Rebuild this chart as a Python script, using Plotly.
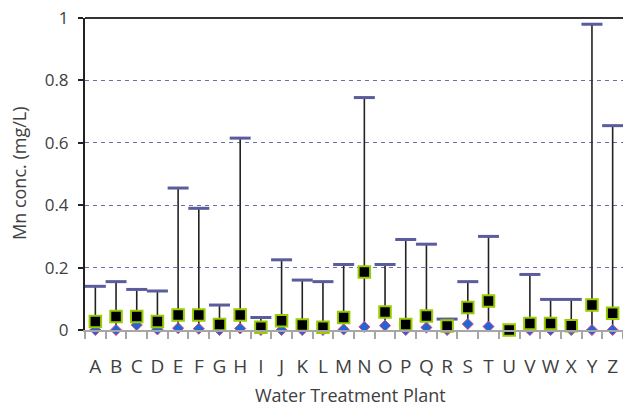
import plotly.graph_objects as go

plants = list("ABCDEFGHIJKLMNOPQRSTUVWXYZ")
mn_max = [0.14, 0.155, 0.13, 0.125, 0.455, 0.39, 0.08, 0.615, 0.04, 0.225,
          0.16, 0.155, 0.21, 0.745, 0.21, 0.29, 0.275, 0.035, 0.155, 0.30,
          0.0, 0.178, 0.098, 0.098, 0.98, 0.655]
mn_mean = [0.027, 0.043, 0.043, 0.027, 0.048, 0.048, 0.018, 0.048, 0.009, 0.03,
           0.016, 0.009, 0.04, 0.186, 0.058, 0.018, 0.045, 0.013, 0.072, 0.093,
           0.0, 0.021, 0.021, 0.014, 0.08, 0.054]
mn_min = [0.0, 0.0, 0.016, 0.002, 0.006, 0.004, 0.0, 0.005, 0.0, 0.0,
          0.0, 0.0, 0.002, 0.01, 0.014, 0.0, 0.008, 0.0, 0.019, 0.011,
          0.0, 0.0, 0.0, 0.0, 0.0, 0.0]
y_ticks = [0, 0.2, 0.4, 0.6, 0.8, 1]
y_ticktext = ["0", "0.2", "0.4", "0.6", "0.8", "1"]
x_title = "Water Treatment Plant"
y_title = "Mn conc. (mg/L)"

FONT = "Open Sans"
TXT = "#404040"

# vertical range lines built from min/max
lx, ly = [], []
for p, lo, hi in zip(plants, mn_min, mn_max):
    if hi > lo:
        lx += [p, p, None]
        ly += [lo, hi, None]

fig = go.Figure()
fig.add_trace(go.Scatter(x=lx, y=ly, mode="lines",
                         line=dict(color="#222222", width=1.6),
                         hoverinfo="skip", showlegend=False, cliponaxis=False))
cap_x = [p for p, lo, hi in zip(plants, mn_min, mn_max) if hi > lo + 0.01]
cap_y = [hi for p, lo, hi in zip(plants, mn_min, mn_max) if hi > lo + 0.01]
fig.add_trace(go.Scatter(x=cap_x, y=cap_y, mode="markers",
                         marker=dict(symbol="line-ew", size=15,
                                     line=dict(color="#5b5c9c", width=3)),
                         showlegend=False, cliponaxis=False, name="Max"))
fig.add_trace(go.Scatter(x=plants, y=mn_min, mode="markers",
                         marker=dict(symbol="diamond", size=8.5, color="#1f66d6",
                                     line=dict(color="#e0457e", width=1)),
                         showlegend=False, cliponaxis=False, name="Min"))
fig.add_trace(go.Scatter(x=plants, y=mn_mean, mode="markers",
                         marker=dict(symbol="square", size=11.5, color="#000000",
                                     line=dict(color="#99cc00", width=2)),
                         showlegend=False, cliponaxis=False, name="Mean"))

# top border of the plot area
fig.add_shape(type="line", xref="paper", yref="paper", x0=0, x1=1, y0=1, y1=1,
              line=dict(color="#333333", width=2), layer="above")

fig.add_annotation(text=x_title, xref="paper", yref="paper", x=0.494, y=0,
                   yshift=-65, xanchor="center", yanchor="middle", showarrow=False,
                   font=dict(family=FONT, size=18, color=TXT))
fig.add_annotation(text=y_title, xref="paper", yref="paper", x=0, y=0.5,
                   xshift=-66, xanchor="center", yanchor="middle", textangle=-90,
                   showarrow=False, font=dict(family=FONT, size=18, color=TXT))

fig.update_layout(
    width=623, height=408,
    margin=dict(l=85, r=0, t=18, b=78),
    paper_bgcolor="white", plot_bgcolor="white",
    font=dict(family=FONT, size=18, color=TXT),
)
fig.update_xaxes(
    type="category", categoryorder="array", categoryarray=plants,
    tickmode="array", tickvals=plants, ticktext=plants,
    range=[-0.5, 25.5], showgrid=False, automargin=False, tickangle=0,
    showline=True, linecolor="#a6a6a6", linewidth=2,
    ticks="outside", tickson="boundaries", ticklen=7, tickcolor="#a6a6a6", tickwidth=1.5,
    tickfont=dict(family=FONT, size=19, color=TXT),
    ticklabelstandoff=18, ticklabeloverflow="allow",
    zeroline=False,
)
fig.update_yaxes(
    range=[0, 1], tickvals=y_ticks, ticktext=y_ticktext, automargin=False,
    showgrid=True, gridcolor="#6b6cab", gridwidth=1.3, griddash="4px,4px",
    showline=True, linecolor="#222222", linewidth=2,
    ticks="outside", ticklen=5, tickcolor="#222222", tickwidth=1.5,
    tickfont=dict(family=FONT, size=17, color=TXT),
    ticklabelstandoff=6, ticklabeloverflow="allow",
    zeroline=False,
)

# remove the browser's default 8px body margin so the figure fills the window
fig.write_html("out.html", config={"displayModeBar": False},
               post_script="document.body.style.margin='0';document.body.style.overflow='hidden';")
